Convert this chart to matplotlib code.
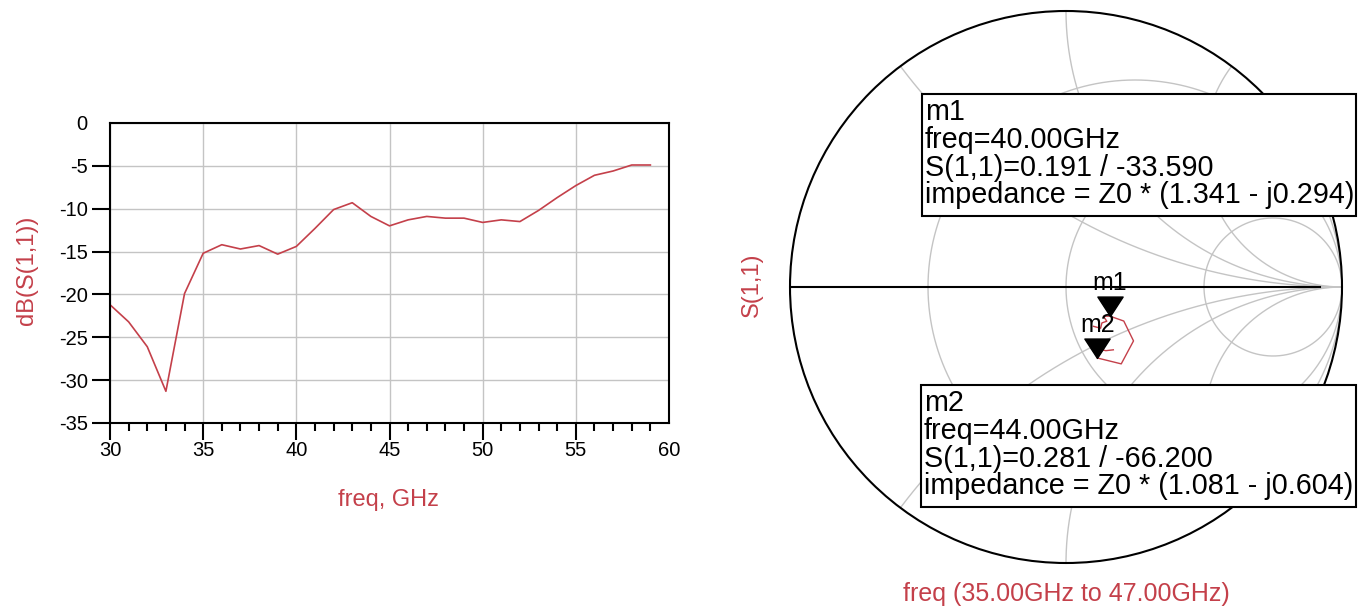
import numpy as np
import matplotlib
matplotlib.use("Agg")
import matplotlib.pyplot as plt
from matplotlib.path import Path
from matplotlib.patches import Rectangle, Circle

plt.rcParams['font.family'] = ['Liberation Sans', 'DejaVu Sans']
plt.rcParams['axes.unicode_minus'] = False

RED = '#c4404a'
GRID = '#c4c4c4'

# left plot: dB(S(1,1)) vs freq
freq = list(range(30, 60))
s11_db = [-21.2, -23.2, -26.1, -31.3, -19.9, -15.2, -14.2, -14.7, -14.3, -15.3,
          -14.4, -12.3, -10.1, -9.3, -10.9, -12.0, -11.3, -10.9, -11.1, -11.1,
          -11.6, -11.3, -11.5, -10.2, -8.7, -7.3, -6.1, -5.6, -4.9, -4.9]

# smith chart trace 35..47 GHz (magnitude, angle in degrees)
sm_freq = list(range(35, 48))
sm_mag = [0.174, 0.195, 0.184, 0.193, 0.172, 0.191, 0.243, 0.313, 0.343,
          0.281, 0.251, 0.272, 0.285]
sm_ang = [-55.0, -50.0, -45.0, -40.0, -38.0, -33.59, -30.5, -38.6, -54.3,
          -66.2, -63.0, -58.0, -53.0]

r_circles = [1 / 3, 1.0, 3.0]
x_arcs = [0.5, 1.0, 2.0, -0.5, -1.0, -2.0]

markers = [
    ("m1", 40, ["m1", "freq=40.00GHz", "S(1,1)=0.191 / -33.590",
                "impedance = Z0 * (1.341 - j0.294)"]),
    ("m2", 44, ["m2", "freq=44.00GHz", "S(1,1)=0.281 / -66.200",
                "impedance = Z0 * (1.081 - j0.604)"]),
]

W, H = 1371, 612
fig = plt.figure(figsize=(W / 100, H / 100), dpi=100)


def fx(x):
    return x / W


def fy(y):
    return 1 - y / H


# ---------------- left: rectangular plot ----------------
ax = fig.add_axes([fx(110), fy(423), 559 / W, 300 / H])
ax.plot(freq, s11_db, color=RED, lw=1.2)
ax.set_xlim(30, 60)
ax.set_ylim(-35, 0)
ax.set_xticks(range(30, 61, 5))
ax.set_xticks(range(30, 61, 1), minor=True)
ax.set_yticks(range(-35, 1, 5))
ax.grid(True, which='major', color=GRID, lw=1)
for s in ax.spines.values():
    s.set_linewidth(1.5)
ax.tick_params(axis='x', which='major', direction='out', length=12, width=1.5,
               labelsize=14.5, pad=1)
ax.tick_params(axis='x', which='minor', direction='out', length=6, width=1.5)
ax.tick_params(axis='y', which='major', direction='out', length=13, width=1.5,
               labelsize=14.5, pad=3)
ax.xaxis.get_major_ticks()[-1].tick1line.set_visible(False)
ax.yaxis.get_major_ticks()[-1].tick1line.set_visible(False)
ax.set_xlabel("freq, GHz", color=RED, fontsize=17, va='center')
ax.xaxis.set_label_coords((388 - 110) / 559, (423 - 500) / 300)
ax.set_ylabel("dB(S(1,1))", color=RED, fontsize=17, va='center')
ax.yaxis.set_label_coords((27 - 110) / 559, (423 - 270) / 300)

# ---------------- right: smith chart ----------------
sx = fig.add_axes([fx(790), fy(563), 552 / W, 552 / H])
sx.set_xlim(-1, 1)
sx.set_ylim(-1, 1)
sx.axis('off')

t = np.linspace(0, 2 * np.pi, 2000)
for r in r_circles:
    c = r / (r + 1)
    rad = 1 / (r + 1)
    sx.plot(c + rad * np.cos(t), rad * np.sin(t), color=GRID, lw=1, zorder=1)
for xv in x_arcs:
    cy = 1 / xv
    rad = abs(1 / xv)
    px = 1 + rad * np.cos(t)
    py = cy + rad * np.sin(t)
    inside = px ** 2 + py ** 2 <= 1.0001
    px = np.where(inside, px, np.nan)
    py = np.where(inside, py, np.nan)
    sx.plot(px, py, color=GRID, lw=1, zorder=1)

sx.add_patch(Circle((0, 0), 1, fill=False, ec='black', lw=1.5, clip_on=False, zorder=2))
sx.plot([-1, 0.92], [0, 0], color='black', lw=1.5, zorder=2)

gam = np.array(sm_mag) * np.exp(1j * np.deg2rad(sm_ang))
sx.plot(gam.real, gam.imag, color=RED, lw=1, zorder=3)

tri = Path([(-0.65, 1), (0.65, 1), (0, 0), (-0.65, 1)],
           [Path.MOVETO, Path.LINETO, Path.LINETO, Path.CLOSEPOLY])
for name, f, lines in markers:
    i = sm_freq.index(f)
    sx.plot(gam.real[i], gam.imag[i], marker=tri, ms=28, color='black', zorder=5,
            clip_on=False)
    sx.annotate(name, (gam.real[i], gam.imag[i]), xytext=(0, 24),
                textcoords='offset points', ha='center', va='center',
                fontsize=18, zorder=6)

boxes = {"m1": (922, 94, 1356, 216), "m2": (921, 385, 1356, 507)}
for name, f, lines in markers:
    x0, y0, x1, y1 = boxes[name]
    fig.patches.append(Rectangle((fx(x0), fy(y1)), (x1 - x0) / W, (y1 - y0) / H,
                                 transform=fig.transFigure, fc='white',
                                 ec='black', lw=1.5, zorder=10))
    for k, line in enumerate(lines):
        fig.text(fx(x0 + 3), fy(y0 + 18 + 27.8 * k), line, fontsize=20.7,
                 ha='left', va='center', zorder=11)

fig.text(fx(752), fy(285), "S(1,1)", color=RED, fontsize=17, rotation=90,
         ha='center', va='center')
fig.text(fx(1066), fy(594), "freq (35.00GHz to 47.00GHz)", color=RED,
         fontsize=18, ha='center', va='center')

fig.savefig("out.png", dpi=100)
